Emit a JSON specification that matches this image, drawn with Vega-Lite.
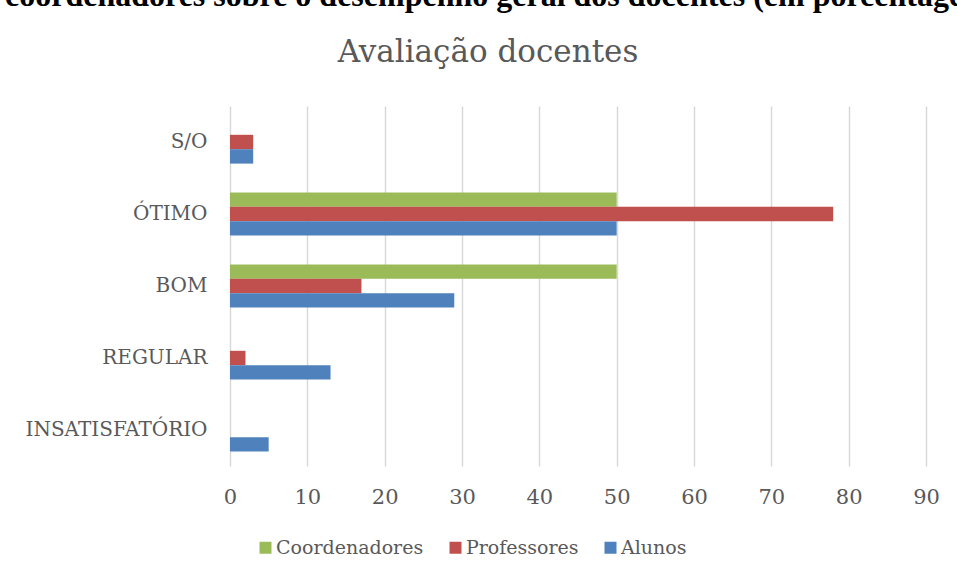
{
  "$schema": "https://vega.github.io/schema/vega-lite/v6.json",
  "padding": {"left": 5, "top": -20, "right": 0, "bottom": 0},
  "background": "white",
  "title": {
    "text": "coordenadores sobre o desempenho geral dos docentes (em porcentagem)",
    "font": "Liberation Serif",
    "fontSize": 32,
    "fontWeight": "bold",
    "color": "#000000",
    "anchor": "start",
    "frame": "bounds",
    "offset": 24
  },
  "config": {"view": {"stroke": null}},
  "vconcat": [
    {
      "width": 696,
      "height": 360,
      "title": {
        "text": "Avaliação docentes",
        "font": "DejaVu Serif",
        "fontSize": 31,
        "fontWeight": "normal",
        "color": "#595959",
        "anchor": "middle",
        "frame": "group",
        "dx": -90,
        "offset": 37
      },
      "data": {
        "values": [
          {"categoria": "S/O", "grupo": "Coordenadores", "valor": 0},
          {"categoria": "S/O", "grupo": "Professores", "valor": 3},
          {"categoria": "S/O", "grupo": "Alunos", "valor": 3},
          {"categoria": "ÓTIMO", "grupo": "Coordenadores", "valor": 50},
          {"categoria": "ÓTIMO", "grupo": "Professores", "valor": 78},
          {"categoria": "ÓTIMO", "grupo": "Alunos", "valor": 50},
          {"categoria": "BOM", "grupo": "Coordenadores", "valor": 50},
          {"categoria": "BOM", "grupo": "Professores", "valor": 17},
          {"categoria": "BOM", "grupo": "Alunos", "valor": 29},
          {"categoria": "REGULAR", "grupo": "Coordenadores", "valor": 0},
          {"categoria": "REGULAR", "grupo": "Professores", "valor": 2},
          {"categoria": "REGULAR", "grupo": "Alunos", "valor": 13},
          {"categoria": "INSATISFATÓRIO", "grupo": "Coordenadores", "valor": 0},
          {"categoria": "INSATISFATÓRIO", "grupo": "Professores", "valor": 0},
          {"categoria": "INSATISFATÓRIO", "grupo": "Alunos", "valor": 5}
        ]
      },
      "mark": {"type": "bar"},
      "encoding": {
        "y": {
          "field": "categoria",
          "type": "nominal",
          "sort": ["S/O", "ÓTIMO", "BOM", "REGULAR", "INSATISFATÓRIO"],
          "scale": {"paddingInner": 0.4, "paddingOuter": 0.2},
          "axis": {
            "title": null,
            "domain": false,
            "ticks": false,
            "grid": false,
            "minExtent": 225,
            "labelLimit": 400,
            "labelFont": "DejaVu Serif",
            "labelFontSize": 20,
            "labelColor": "#595959",
            "labelPadding": 23
          }
        },
        "x": {
          "field": "valor",
          "type": "quantitative",
          "scale": {"domain": [0, 90], "nice": false},
          "axis": {
            "title": null,
            "values": [0, 10, 20, 30, 40, 50, 60, 70, 80, 90],
            "domain": false,
            "ticks": false,
            "tickSize": 0,
            "grid": true,
            "gridColor": "#D9D9D9",
            "gridWidth": 1.5,
            "labelFlush": false,
            "labelFont": "DejaVu Serif",
            "labelFontSize": 21,
            "labelColor": "#595959",
            "labelPadding": 20
          }
        },
        "yOffset": {"field": "grupo", "type": "nominal", "sort": ["Coordenadores", "Professores", "Alunos"]},
        "color": {
          "field": "grupo",
          "type": "nominal",
          "scale": {"domain": ["Coordenadores", "Professores", "Alunos"], "range": ["#9BBB59", "#C0504D", "#4F81BD"]},
          "legend": {
            "orient": "none",
            "legendX": 26,
            "legendY": 432,
            "direction": "horizontal",
            "title": null,
            "symbolType": "square",
            "symbolSize": 144,
            "symbolStrokeWidth": 0,
            "symbolOpacity": 1,
            "labelFont": "DejaVu Serif",
            "labelFontSize": 19,
            "labelColor": "#595959",
            "labelOffset": 1,
            "columnPadding": 22
          }
        }
      }
    }
  ]
}
